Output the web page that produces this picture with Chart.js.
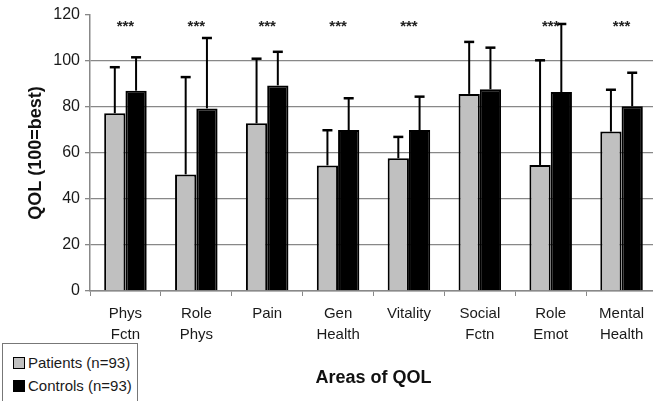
<!DOCTYPE html>
<html>
<head>
<meta charset="utf-8">
<script src="https://cdn.jsdelivr.net/npm/chart.js@4"></script>
<style>
  html, body { margin: 0; padding: 0; background: #fff; overflow: hidden; width: 653px; height: 401px; }
  #wrap { position: relative; width: 660px; height: 401px; }
  #legend {
    position: absolute; left: 2px; top: 343px; width: 134px; height: 62px;
    border: 1px solid #777; background: #fff;
    font-family: "Liberation Sans", Arial, sans-serif; font-size: 15px; color: #1a1a1a;
  }
  .item { position: absolute; left: 10px; white-space: nowrap; }
  .sw { display: inline-block; width: 10px; height: 10px; border: 1.5px solid #000; margin-right: 3px; vertical-align: -1px; }
</style>
</head>
<body>
<div id="wrap">
  <canvas id="chart" width="660" height="401"></canvas>
  <div id="legend">
    <div class="item" style="top:10px"><span class="sw" style="background:#c0c0c0"></span>Patients (n=93)</div>
    <div class="item" style="top:33px"><span class="sw" style="background:#000"></span>Controls (n=93)</div>
  </div>
</div>
<script>
// Werte
const categories = [['Phys', 'Fctn'], ['Role', 'Phys'], 'Pain', ['Gen', 'Health'], 'Vitality', ['Social', 'Fctn'], ['Role', 'Emot'], ['Mental', 'Health']];
const patients = [77.3, 50.7, 72.9, 54.6, 57.7, 85.7, 54.8, 69.3];
const patientsSd = [20.0, 42.3, 28.1, 15.3, 9.3, 22.6, 45.5, 18.2];
const controls = [87.1, 79.4, 89.4, 70.0, 70.0, 87.7, 86.5, 80.3];
const controlsSd = [14.5, 30.6, 14.6, 13.8, 14.5, 18.1, 29.6, 14.6];
const significance = ['***', '***', '***', '***', '***', '', '***', '***'];
const yTicks = [0, 20, 40, 60, 80, 100, 120];

const FONT = '"Liberation Sans", Arial, sans-serif';

// obere Fehlerbalken + Sternchen
const errorBars = {
    id: 'errorBars',
    afterDatasetsDraw(chart) {
        const ctx = chart.ctx;
        const y = chart.scales.y;
        const x = chart.scales.x;
        const sds = [patientsSd, controlsSd];
        ctx.save();
        ctx.strokeStyle = '#000';
        chart.data.datasets.forEach((ds, di) => {
            const meta = chart.getDatasetMeta(di);
            meta.data.forEach((bar, i) => {
                const top = y.getPixelForValue(ds.data[i] + sds[di][i]);
                ctx.lineWidth = 2;
                ctx.beginPath();
                ctx.moveTo(bar.x, bar.y);
                ctx.lineTo(bar.x, top);
                ctx.stroke();
                ctx.lineWidth = 2.5;
                ctx.beginPath();
                ctx.moveTo(bar.x - 5, top);
                ctx.lineTo(bar.x + 5, top);
                ctx.stroke();
            });
        });
        ctx.fillStyle = '#222';
        ctx.font = 'bold 15px ' + FONT;
        ctx.textAlign = 'center';
        ctx.textBaseline = 'alphabetic';
        significance.forEach((s, i) => {
            if (s) ctx.fillText(s, x.getPixelForValue(i), y.getPixelForValue(113));
        });
        ctx.restore();
    }
};

new Chart(document.getElementById('chart'), {
    type: 'bar',
    data: {
        labels: categories,
        datasets: [
            { label: 'Patients (n=93)', data: patients, backgroundColor: '#c0c0c0', borderColor: '#000', borderWidth: 2 },
            { label: 'Controls (n=93)', data: controls, backgroundColor: '#000', borderColor: '#000', borderWidth: 2 }
        ]
    },
    options: {
        responsive: false,
        animation: false,
        devicePixelRatio: 1,
        layout: { padding: { top: 15, right: 3, bottom: 0, left: 0 } },
        datasets: { bar: { categoryPercentage: 0.6, barPercentage: 1.0 } },
        plugins: { legend: { display: false }, tooltip: { enabled: false } },
        scales: {
            x: {
                grid: { drawOnChartArea: false, tickLength: 5, tickColor: '#888' },
                border: { color: '#888', width: 1.5 },
                ticks: { color: '#1a1a1a', padding: 7, font: { family: FONT, size: 15, lineHeight: 1.4 }, maxRotation: 0 },
                title: { display: true, text: 'Areas of QOL', color: '#111', font: { family: FONT, size: 18, weight: 'bold' }, padding: { top: 0, bottom: 12 } },
                afterFit(scale) { scale.height = 110; }
            },
            y: {
                min: 0,
                max: 120,
                afterBuildTicks(scale) { scale.ticks = yTicks.map(v => ({ value: v })); },
                grid: { color: ctx => (ctx.tick && ctx.tick.value === 120 ? 'rgba(0,0,0,0)' : '#888'), lineWidth: 1.3, tickLength: 5, tickColor: '#888' },
                border: { color: '#888', width: 1.5 },
                ticks: { color: '#1a1a1a', padding: 5, font: { family: FONT, size: 16 } },
                title: { display: true, text: 'QOL (100=best)', color: '#111', font: { family: FONT, size: 18, weight: 'bold' }, padding: { top: 25, bottom: 0 } },
                afterFit(scale) { scale.width = 90; }
            }
        }
    },
    plugins: [errorBars]
});
</script>
</body>
</html>
